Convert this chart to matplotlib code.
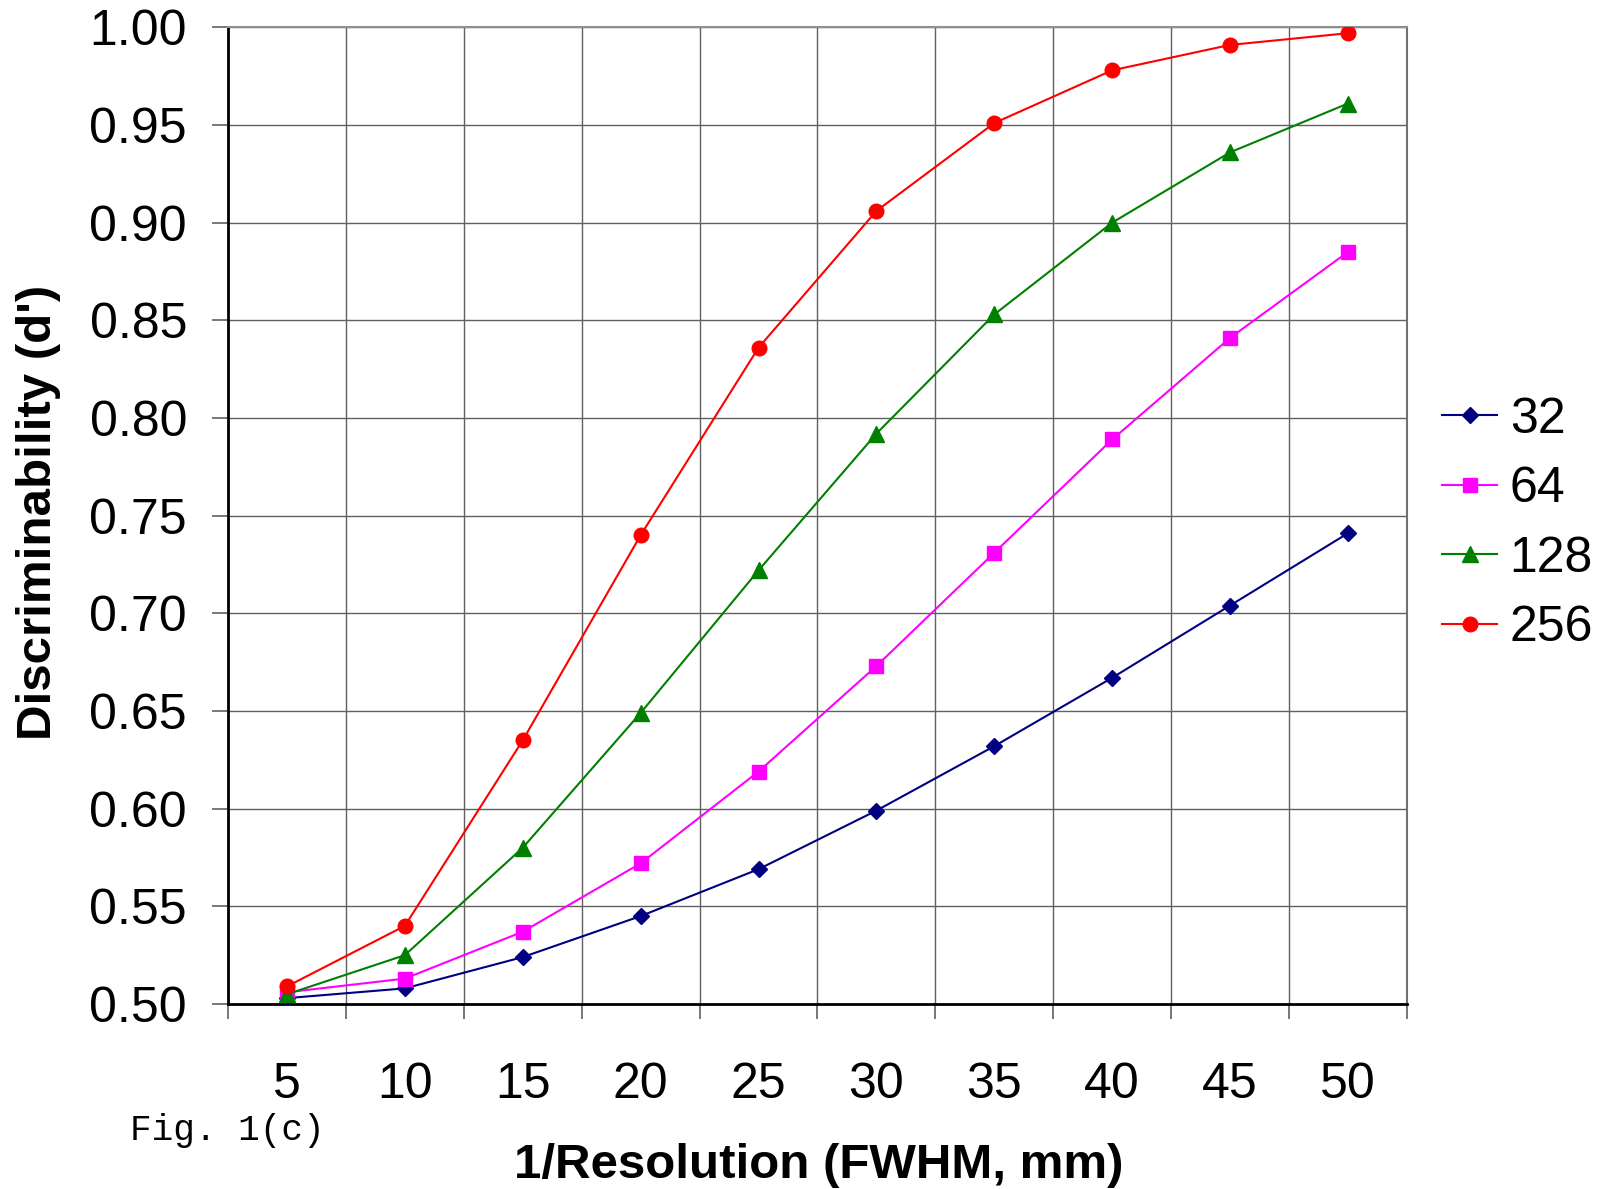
import matplotlib.pyplot as plt
from matplotlib.ticker import FixedLocator, NullFormatter, FixedFormatter
import numpy as np

plt.rcParams['font.family'] = ['Liberation Sans', 'DejaVu Sans']

# category values on the x axis
resolution = [5, 10, 15, 20, 25, 30, 35, 40, 45, 50]

# discriminability for each matrix size
d_32 = [0.503, 0.508, 0.524, 0.545, 0.569, 0.599, 0.632, 0.667, 0.704, 0.741]
d_64 = [0.506, 0.513, 0.537, 0.572, 0.619, 0.673, 0.731, 0.789, 0.841, 0.885]
d_128 = [0.505, 0.525, 0.580, 0.649, 0.722, 0.792, 0.853, 0.900, 0.936, 0.961]
d_256 = [0.509, 0.540, 0.635, 0.740, 0.836, 0.906, 0.951, 0.978, 0.991, 0.997]

series = [
    ('32', d_32, '#000080', 'D', 8.5),
    ('64', d_64, '#FF00FF', 's', 9.5),
    ('128', d_128, '#008000', '^', 11),
    ('256', d_256, '#FF0000', 'o', 10.5),
]

fig = plt.figure(figsize=(16.06, 11.89), dpi=100)
ax = fig.add_axes([0.142, 0.1556, 0.734, 0.8214])

x = np.arange(len(resolution))
for name, vals, col, mk, ms in series:
    ax.plot(x, vals, color=col, linewidth=1.5, marker=mk, markersize=ms,
            markerfacecolor=col, markeredgecolor=col, label=name, zorder=3)

grid_col = '#606060'
ax.set_xlim(-0.5, len(resolution) - 0.5)
ax.set_ylim(0.5, 1.0)

# x ticks at category boundaries, labels at category centers
ax.xaxis.set_major_locator(FixedLocator(np.arange(len(resolution) + 1) - 0.5))
ax.xaxis.set_major_formatter(NullFormatter())
ax.xaxis.set_minor_locator(FixedLocator(x))
ax.xaxis.set_minor_formatter(FixedFormatter([str(r) for r in resolution]))
ax.tick_params(axis='x', which='major', direction='out', length=11, width=1.2, color=grid_col)
ax.tick_params(axis='x', which='minor', length=0, pad=42, labelsize=36)

yt = np.arange(0.50, 1.001, 0.05)
ax.set_yticks(yt)
ax.set_yticklabels([f'{v:.2f}' for v in yt])
ax.tick_params(axis='y', direction='out', length=11.5, width=1.2, color=grid_col, pad=18, labelsize=36)

ax.grid(True, which='major', color=grid_col, linewidth=1.0)
ax.set_axisbelow(True)

ax.spines['left'].set_color('black')
ax.spines['left'].set_linewidth(2)
ax.spines['bottom'].set_color('black')
ax.spines['bottom'].set_linewidth(2)
ax.spines['top'].set_color('#909090')
ax.spines['top'].set_linewidth(1.5)
ax.spines['right'].set_color('#707070')
ax.spines['right'].set_linewidth(1.5)

fig.text(0.024, 0.569, "Discriminability (d')", rotation=90, fontsize=35.5,
         fontweight='bold', ha='center', va='center')
fig.text(0.51, 0.02, '1/Resolution (FWHM, mm)', fontsize=35.5,
         fontweight='bold', ha='center', va='center')
fig.text(0.081, 0.049, 'Fig. 1(c)', fontsize=26, family='Liberation Mono',
         ha='left', va='center')

fig.legend(loc='center left', bbox_to_anchor=(0.898, 0.5595), frameon=False,
           fontsize=36, handlelength=1.1, handletextpad=0.25, labelspacing=0.47,
           borderpad=0, borderaxespad=0)

fig.savefig('out.png', dpi=100, facecolor='white')
